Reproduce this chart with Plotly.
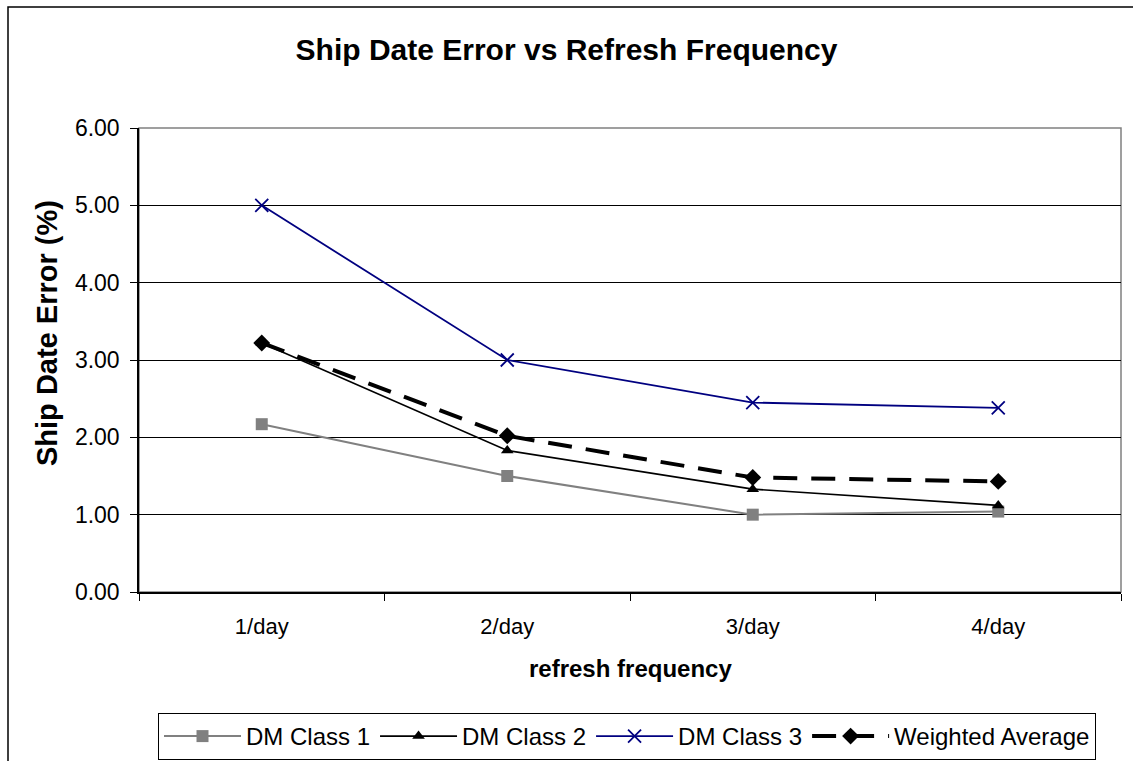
import plotly.graph_objects as go

categories = ["1/day", "2/day", "3/day", "4/day"]
dm_class_1 = [2.17, 1.50, 1.00, 1.04]
dm_class_2 = [3.22, 1.83, 1.33, 1.12]
dm_class_3 = [5.00, 3.00, 2.45, 2.38]
weighted_avg = [3.22, 2.02, 1.48, 1.43]
y_ticks = [0, 1, 2, 3, 4, 5, 6]

FONT = "Liberation Sans, Arial, sans-serif"

fig = go.Figure()
fig.add_trace(go.Scatter(
    x=categories, y=dm_class_1, name="DM Class 1", mode="lines+markers",
    line=dict(color="#808080", width=2),
    marker=dict(symbol="square", size=12, color="#808080"),
))
fig.add_trace(go.Scatter(
    x=categories, y=dm_class_2, name="DM Class 2", mode="lines+markers",
    line=dict(color="#000000", width=1.6),
    marker=dict(symbol="triangle-up", size=11, color="#000000"),
))
fig.add_trace(go.Scatter(
    x=categories, y=dm_class_3, name="DM Class 3", mode="lines+markers",
    line=dict(color="#000080", width=1.8),
    marker=dict(symbol="x-thin", size=13, line=dict(color="#000080", width=1.8)),
))
fig.add_trace(go.Scatter(
    x=categories, y=weighted_avg, name="Weighted Average", mode="lines+markers",
    line=dict(color="#000000", width=4, dash="24px,14px"),
    marker=dict(symbol="diamond", size=13, color="#000000"),
))

fig.update_layout(
    width=1133, height=761,
    margin=dict(l=139, r=12, t=128, b=169, autoexpand=False),
    paper_bgcolor="white", plot_bgcolor="white",
    font=dict(family=FONT, size=22, color="black"),
    title=dict(text="<b>Ship Date Error vs Refresh Frequency</b>",
               x=0.5, xref="container", xanchor="center",
               y=1 - 49 / 761, yref="container", yanchor="middle",
               font=dict(size=30, family=FONT, color="black")),
    showlegend=True,
    legend=dict(orientation="h", x=(158 - 139) / 982, xanchor="left",
                y=1 - 713 / 761, yref="container", yanchor="top",
                bordercolor="black", borderwidth=1,
                font=dict(size=24, family=FONT),
                itemwidth=77, tracegroupgap=0),
)

fig.update_xaxes(
    type="category", range=[-0.5, 3.5],
    showline=True, linecolor="#000000", linewidth=1.5,
    ticks="outside", tickson="boundaries", ticklen=7, tickcolor="#000000",
    showgrid=False, zeroline=False,
    tickfont=dict(size=22), ticklabelstandoff=14,
)
fig.update_yaxes(
    range=[0, 6], tickvals=y_ticks, tickformat=".2f",
    showline=True, linecolor="#000000", linewidth=1.5,
    ticks="outside", ticklen=7, tickcolor="#000000",
    showgrid=True, gridcolor="#000000", gridwidth=1,
    zeroline=False,
    tickfont=dict(size=23), ticklabelstandoff=6,
)

# axis titles
fig.add_annotation(text="<b>refresh frequency</b>", xref="paper", yref="paper",
                   x=0.5, y=(592 - 668) / 464, xanchor="center", yanchor="middle",
                   showarrow=False, font=dict(size=24, family=FONT, color="black"))
fig.add_annotation(text="<b>Ship Date Error (%)</b>", xref="paper", yref="paper",
                   x=(47 - 139) / 982, y=(592 - 333) / 464, xanchor="center", yanchor="middle",
                   textangle=-90, showarrow=False,
                   font=dict(size=29, family=FONT, color="black"))

# plot-area border (gray) and outer chart border
fig.add_shape(type="rect", xref="paper", yref="paper", x0=0, y0=0, x1=1, y1=1,
              line=dict(color="#808080", width=1.5), layer="below")
fig.add_shape(type="rect", xref="paper", yref="paper",
              x0=(8 - 139) / 982, x1=1.05, y0=-0.5, y1=(592 - 7) / 464,
              line=dict(color="#000000", width=1.5))

fig.write_html("out.html", config={"displayModeBar": False},
               post_script="document.body.style.margin='0px';")
